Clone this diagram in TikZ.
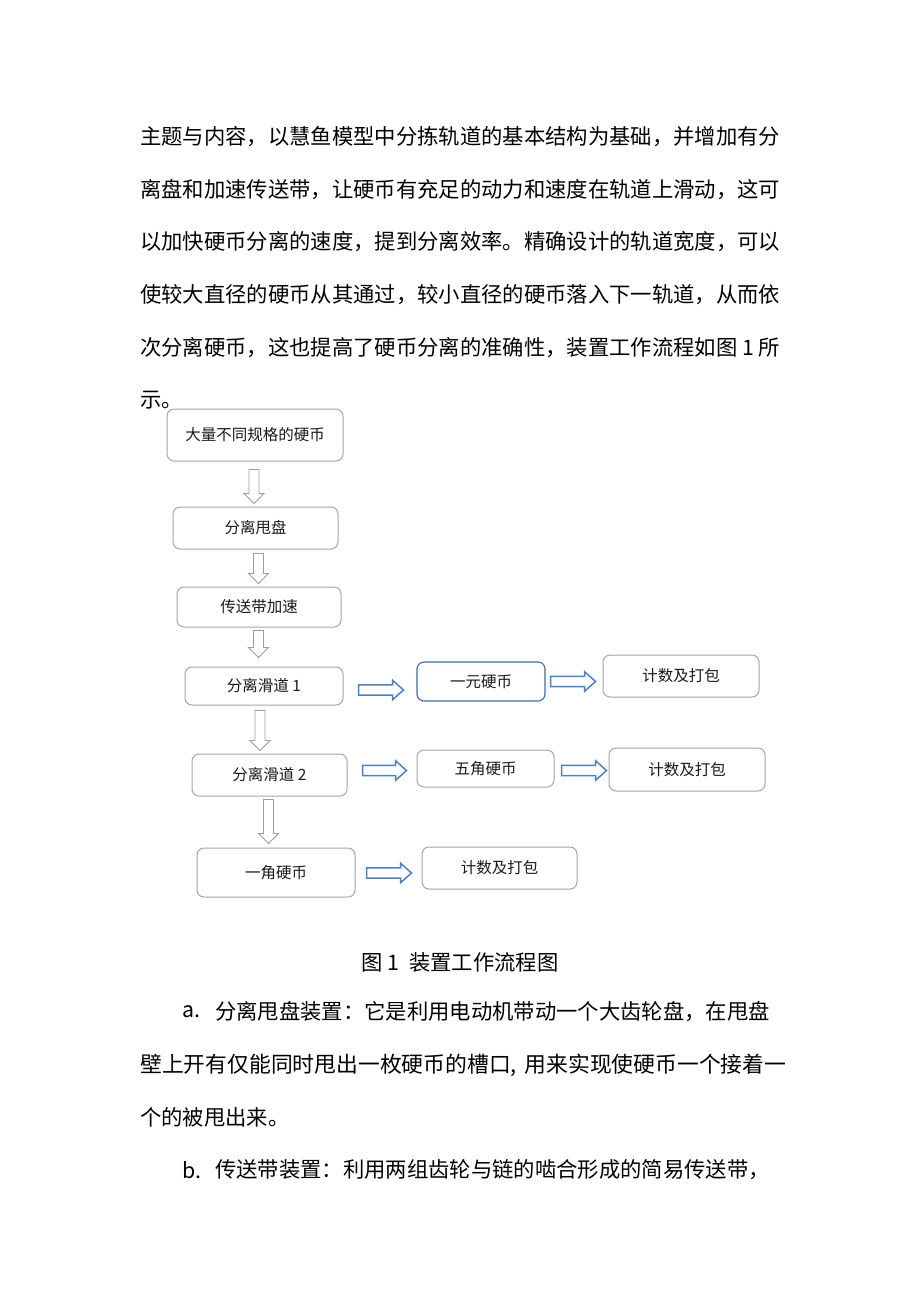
\documentclass[tikz,border=0pt]{standalone}
\usepackage{fontspec}
\newfontfamily\cjk{Noto Sans CJK SC}
\usetikzlibrary{calc}
\definecolor{boxgray}{HTML}{A6A6A6}
\definecolor{arrgray}{HTML}{9C9C9C}
\definecolor{boxblue}{HTML}{3C6EA8}
\definecolor{arrblue}{HTML}{4F81BD}
\definecolor{txt}{HTML}{1A1A1A}
\tikzset{
  body/.style={font=\cjk\fontsize{21.33pt}{26pt}\selectfont, inner sep=0pt, text=black},
  fbox/.style={draw=boxgray, line width=1pt, rounded corners=7pt, fill=white, inner sep=0pt,
     font=\cjk\fontsize{15.5pt}{18pt}\selectfont, text=txt},
  bbox/.style={fbox, draw=boxblue, line width=1.1pt},
  garrow/.style={draw=arrgray, line width=0.9pt, fill=white, line join=miter},
  barrow/.style={draw=arrblue, line width=1.5pt, fill=white, line join=miter},
}
\newcommand{\darrow}[2]{\draw[garrow, shift={($#1$)}] (-5,0) -- (5,0) -- (5,{#2-10}) -- (10,{#2-10}) -- (0,#2) -- (-10,{#2-10}) -- (-5,{#2-10}) -- cycle;}
\newcommand{\rarrow}[2]{\draw[barrow, shift={($#1$)}] (0,-5.2) -- ({#2-11},-5.2) -- ({#2-11},-9.8) -- (#2,0) -- ({#2-11},9.8) -- ({#2-11},5.2) -- (0,5.2) -- cycle;}
\begin{document}
\begin{tikzpicture}[x=1pt,y=-1pt]
\useasboundingbox[fill=white] (0,0) rectangle (920,1302);
% paragraph
\node[body, anchor=west] (p1) at (140,137) {\makebox[640pt][s]{主题与内容，以慧鱼模型中分拣轨道的基本结构为基础，并增加有分}};
\node[body, anchor=west] (p2) at (140,190) {\makebox[640pt][s]{离盘和加速传送带，让硬币有充足的动力和速度在轨道上滑动，这可}};
\node[body, anchor=west] (p3) at (140,242) {\makebox[640pt][s]{以加快硬币分离的速度，提到分离效率。精确设计的轨道宽度，可以}};
\node[body, anchor=west] (p4) at (140,295) {\makebox[640pt][s]{使较大直径的硬币从其通过，较小直径的硬币落入下一轨道，从而依}};
\node[body, anchor=west] (p5) at (140,348) {\makebox[640pt][s]{次分离硬币，这也提高了硬币分离的准确性，装置工作流程如图 1 所}};
\node[body, anchor=west] (p6) at (140,400) {示。};
% flowchart boxes
\node[fbox, minimum width=176pt, minimum height=52pt] (b1) at (255,435) {大量不同规格的硬币};
\node[fbox, minimum width=165pt, minimum height=42pt] (b2) at (255.5,528) {分离甩盘};
\node[fbox, minimum width=164pt, minimum height=40pt] (b3) at (259,607) {传送带加速};
\node[fbox, minimum width=158pt, minimum height=38pt] (b4) at (264,686) {分离滑道 1};
\node[bbox, minimum width=128pt, minimum height=39pt] (c1) at (481,681.5) {一元硬币};
\node[fbox, minimum width=156pt, minimum height=42pt] (d1) at (681,676) {计数及打包};
\node[fbox, minimum width=155pt, minimum height=42pt] (b5) at (269.5,775) {分离滑道 2};
\node[fbox, minimum width=137pt, minimum height=37pt] (c2) at (485.5,768.5) {五角硬币};
\node[fbox, minimum width=156pt, minimum height=43pt] (d2) at (687,769.5) {计数及打包};
\node[fbox, minimum width=158pt, minimum height=49pt] (b6) at (276,872.5) {一角硬币};
\node[fbox, minimum width=155pt, minimum height=42pt] (d3) at (499.5,868) {计数及打包};
% down arrows
\darrow{(b1.south)+(-1,8)}{34}
\darrow{(b2.south)+(3,4)}{30}
\darrow{(b3.south)+(-0.5,3)}{27}
\darrow{(b4.south)+(-4,5)}{40}
\darrow{(b5.south)+(-1,3)}{44}
% right arrows
\rarrow{(b4.east)+(15,4)}{45}
\rarrow{(c1.east)+(5,0)}{45}
\rarrow{(b5.east)+(15,-4.5)}{44}
\rarrow{(c2.east)+(7,2)}{45}
\rarrow{(b6.east)+(11,0.5)}{45}
% caption
\node[body] (cap) at (460,962) {图 1\ \ 装置工作流程图};
% following text
\node[body, anchor=west] (qa) at (182,1012) {a.};
\node[body, anchor=west] (q1) at (215,1012) {分离甩盘装置：它是利用电动机带动一个大齿轮盘，在甩盘};
\node[body, anchor=west, font=\cjk\fontsize{21.8pt}{26pt}\selectfont] (q2) at (140,1065) {\makebox[646pt][s]{壁上开有仅能同时甩出一枚硬币的槽口, 用来实现使硬币一个接着一}};
\node[body, anchor=west] (q3) at (140,1117) {个的被甩出来。};
\node[body, anchor=west] (qb) at (182,1170) {b.};
\node[body, anchor=west] (q4) at (215,1170) {传送带装置：利用两组齿轮与链的啮合形成的简易传送带，};
\end{tikzpicture}
\end{document}
